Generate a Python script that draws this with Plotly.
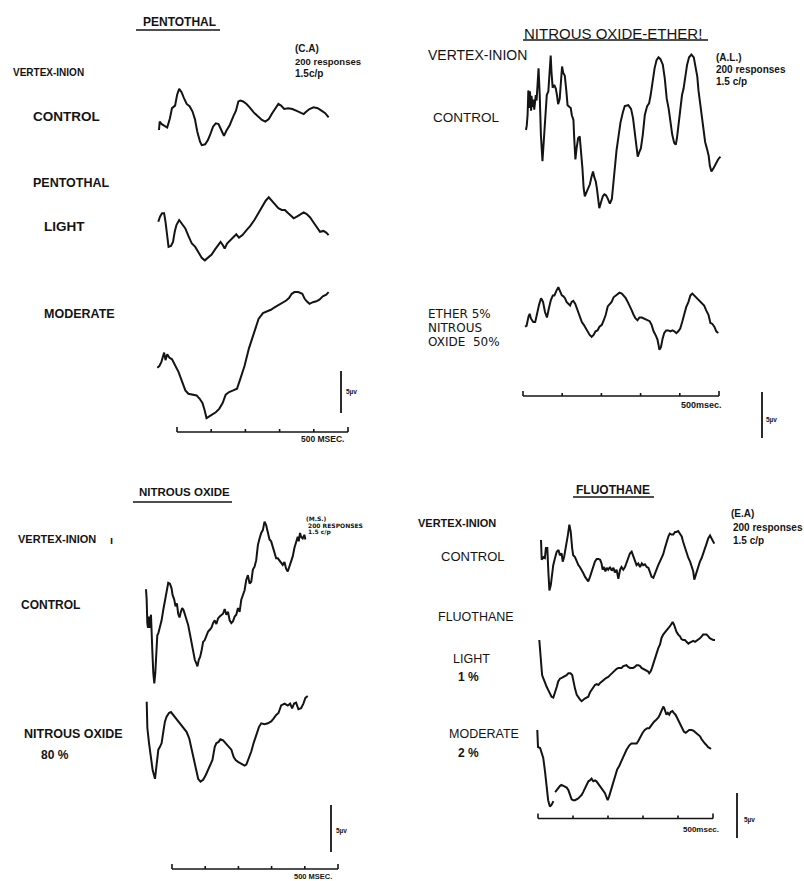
import plotly.graph_objects as go

W, H = 804, 881

# ---------------------------------------------------------------------------
# Averaged evoked responses (200 responses, 1.5 c/p), vertex-inion derivation.
# Time in ms from the start of each sweep, amplitude in µV re the first sample.
# ---------------------------------------------------------------------------

# Pentothal (C.A.)
PENT_CONTROL_T = [0, 2, 8, 15, 24, 32, 38, 47, 53, 59, 66, 73, 81, 90, 98, 105, 112, 120, 125, 135,
                  143, 151, 158, 166, 174, 182, 190, 197, 207, 217, 225, 232, 238, 246, 256, 265,
                  277, 290, 301, 311, 321, 331, 341, 349, 357, 366, 378, 390, 401, 413, 423, 431,
                  440, 452, 464, 475, 486, 496]
PENT_CONTROL_UV = [0, 1.0, 0.7, 0.5, 0.3, 1.4, 2.6, 2.9, 4.2, 4.9, 4.5, 3.8, 3.1, 2.8, 2.2, 1.3,
                   -0.2, -1.4, -1.8, -1.7, -1.2, -0.4, 0.4, 0.8, 0.7, 0.0, -0.7, -0.1, 0.6, 1.6,
                   2.3, 3.4, 3.5, 3.4, 3.1, 2.7, 2.1, 1.6, 1.2, 1.0, 1.3, 2.0, 2.7, 3.1, 2.9, 2.5,
                   2.6, 2.5, 2.3, 2.1, 1.9, 2.2, 2.5, 2.7, 2.6, 2.3, 2.0, 1.5]

PENT_LIGHT_T = [0, 5, 11, 17, 21, 26, 30, 37, 43, 48, 53, 61, 69, 79, 88, 98, 108, 118, 127, 136,
                146, 156, 166, 176, 182, 189, 194, 201, 211, 221, 228, 236, 246, 258, 269, 281,
                293, 304, 314, 323, 331, 341, 351, 361, 370, 380, 390, 396, 405, 415, 425, 434,
                444, 454, 464, 473, 483, 491, 498]
PENT_LIGHT_UV = [0, 0.6, 1.0, 1.0, 0.0, -2.0, -3.0, -2.9, -2.4, -1.2, -0.4, 0.2, -0.2, -0.8, -1.7,
                 -2.6, -3.0, -3.7, -4.3, -4.6, -4.3, -3.9, -3.3, -2.8, -2.4, -2.8, -3.2, -2.6,
                 -2.2, -1.9, -1.5, -1.9, -1.6, -1.0, -0.5, 0.2, 1.0, 1.9, 2.5, 2.9, 2.5, 2.0, 1.6,
                 1.4, 1.4, 1.0, 0.6, 0.4, 0.6, 0.9, 1.1, 0.9, 0.5, -0.1, -0.7, -1.2, -1.1, -1.3,
                 -1.6]

PENT_MODERATE_T = [0, 6, 12, 17, 20, 24, 29, 35, 43, 52, 62, 72, 82, 91, 103, 115, 124, 132, 138,
                   144, 152, 161, 171, 181, 191, 200, 210, 222, 233, 243, 255, 268, 282, 296, 309,
                   321, 332, 344, 356, 367, 377, 385, 393, 401, 412, 424, 431, 437, 445, 455, 465,
                   474, 484, 494, 501]
PENT_MODERATE_UV = [0, 0.2, 0.7, 1.4, 1.8, 0.9, 1.6, 1.2, 1.0, 0.3, -0.5, -1.6, -2.7, -3.1, -3.2,
                    -3.3, -3.7, -4.2, -5.0, -6.0, -5.8, -5.6, -5.3, -4.9, -4.2, -3.2, -2.9, -2.7,
                    -2.5, -1.3, 0.2, 2.3, 4.2, 5.8, 6.5, 6.7, 6.9, 7.2, 7.5, 7.7, 8.0, 8.3, 8.8,
                    9.0, 9.0, 8.8, 8.2, 7.9, 7.6, 7.8, 7.9, 8.1, 8.5, 8.7, 9.0]

# Nitrous oxide - ether (A.L.)
NE_CONTROL_T = [0, 2, 4, 6, 9, 10, 13, 14, 17, 20, 21, 25, 27, 30, 32, 35, 38, 42, 45, 48, 53, 57,
                60, 63, 65, 68, 72, 76, 79, 82, 86, 89, 92, 95, 99, 103, 106, 111, 114, 117, 121,
                123, 126, 129, 133, 137, 140, 144, 147, 150, 155, 159, 163, 167, 171, 174, 178,
                181, 184, 187, 191, 196, 200, 204, 208, 214, 219, 223, 227, 231, 235, 241, 247,
                252, 261, 268, 273, 278, 282, 285, 289, 293, 298, 303, 309, 314, 318, 323, 328,
                333, 338, 343, 349, 354, 359, 364, 369, 373, 378, 382, 385, 389, 394, 398, 402,
                406, 411, 416, 422, 428, 432, 437, 440, 445, 450, 453, 457, 462, 466, 469, 473,
                479, 485, 490, 496]
NE_CONTROL_UV = [0, 0.5, 1.6, 4.3, 2.4, 4.2, 2.1, 3.7, 2.5, 3.3, 2.2, 3.8, 3.2, 5.3, 6.7, 3.8,
                 -0.5, -3.4, -1.3, 1.3, 3.8, 4.2, 6.0, 8.1, 6.3, 4.6, 4.9, 4.5, 3.8, 2.8, 3.4, 5.3,
                 6.9, 6.2, 5.9, 4.2, 2.7, 2.5, 2.4, 1.6, 1.1, -0.9, -3.2, -2.0, -0.9, -0.7, -2.0,
                 -4.2, -6.3, -7.2, -6.7, -6.3, -5.9, -5.1, -4.5, -5.1, -5.6, -6.4, -7.2, -8.5,
                 -7.9, -7.2, -7.0, -7.1, -7.4, -8.0, -7.5, -5.8, -3.4, -2.2, -1.0, 0.8, 1.9, 2.6,
                 2.7, 2.3, 1.3, -0.5, -2.2, -2.9, -2.4, -2.0, -0.5, 1.6, 2.6, 2.9, 3.8, 5.3, 6.7,
                 7.6, 7.9, 7.7, 7.1, 5.6, 3.4, 2.3, 0.5, -0.5, -1.4, -1.6, -0.9, 0.6, 2.1, 3.8,
                 4.5, 5.7, 7.1, 7.9, 8.2, 7.9, 7.1, 5.8, 4.3, 2.6, 0.7, -0.5, -1.3, -2.1, -2.8,
                 -3.9, -4.5, -4.1, -3.6, -3.2, -2.9]

NE_ETHER_T = [0, 4, 9, 12, 15, 21, 26, 30, 36, 41, 46, 51, 56, 61, 66, 71, 75, 80, 85, 89, 94,
              98, 102, 106, 111, 115, 119, 123, 128, 132, 136, 140, 145, 150, 155, 160, 165, 170,
              175, 180, 185, 190, 196, 201, 206, 211, 216, 221, 226, 231, 236, 241, 247, 252,
              257, 262, 267, 272, 277, 282, 287, 292, 298, 303, 308, 313, 318, 323, 328, 333,
              338, 343, 347, 351, 355, 360, 366, 371, 376, 381, 386, 391, 396, 401, 406, 411,
              417, 422, 427, 432, 437, 442, 447, 452, 457, 462, 468, 473, 478, 483, 488, 493]
NE_ETHER_UV = [0, 0.1, 1.1, 1.4, 0.9, 0.5, 0.5, 1.3, 2.4, 3.1, 2.7, 1.6, 1.0, 2.0, 2.9, 3.4, 3.4,
               3.9, 4.3, 3.9, 3.4, 3.3, 3.1, 2.7, 2.5, 2.3, 2.7, 2.8, 2.5, 2.0, 1.4, 1.1, 0.5,
               0.2, -0.2, -0.5, -0.9, -1.1, -0.9, -0.5, -0.4, 0.0, 0.2, 0.7, 1.3, 2.2, 2.4, 2.7,
               3.2, 3.4, 3.6, 3.7, 3.6, 3.4, 3.1, 2.7, 2.3, 1.8, 1.3, 0.9, 0.7, 1.0, 1.0, 0.9,
               0.8, 0.7, 0.6, 0.2, -0.5, -0.9, -1.4, -2.5, -2.2, -1.3, -0.7, -0.4, -0.4, -0.5,
               -0.4, -0.5, -0.7, -0.5, -0.2, 0.5, 1.3, 2.1, 2.7, 3.4, 3.6, 3.4, 3.1, 2.9, 2.7,
               2.5, 2.3, 1.8, 1.3, 0.4, 0.3, 0.0, -0.5, -0.7]

# Nitrous oxide (M.S.)
N2O_CONTROL_T = [0, 2, 4, 6, 9, 12, 15, 17, 19, 22, 25, 28, 31, 34, 37, 42, 47, 52, 57, 62, 67,
                 72, 77, 80, 85, 89, 93, 97, 101, 105, 109, 113, 117, 122, 127, 132, 137, 142, 147,
                 152, 155, 159, 163, 167, 172, 177, 182, 187, 192, 197, 202, 207, 212, 217, 222,
                 227, 232, 237, 242, 247, 252, 257, 262, 267, 272, 277, 282, 287, 292, 297, 302,
                 307, 312, 317, 322, 327, 332, 337, 342, 347, 352, 357, 362, 367, 372, 377, 382,
                 387, 392, 397, 402, 407, 412, 417, 422, 427, 432, 437, 442, 447, 452, 457, 460,
                 464, 467, 472, 477, 480]
N2O_CONTROL_UV = [0, -1.1, -3.6, -4.1, -2.9, -4.1, -2.7, -4.0, -6.5, -8.9, -10.0, -8.9, -6.8, -4.9,
                  -4.7, -4.0, -3.3, -2.2, -1.1, 0.1, 0.7, 0.6, 0.1, -0.6, -1.1, -1.8, -1.5, -2.6,
                  -3.0, -2.4, -2.0, -2.2, -2.6, -3.1, -3.8, -4.7, -5.7, -6.8, -7.5, -7.9, -8.2,
                  -7.5, -7.2, -6.6, -5.6, -5.4, -4.9, -4.5, -4.3, -4.1, -3.6, -3.3, -3.7, -3.1,
                  -2.9, -2.7, -2.6, -2.1, -2.7, -2.4, -3.3, -3.6, -3.4, -2.9, -2.7, -2.0, -2.4,
                  -1.1, -0.6, -0.1, 1.0, 1.5, 0.6, 0.8, 2.1, 2.4, 3.1, 4.7, 5.4, 6.0, 6.3, 7.2,
                  6.8, 6.0, 5.3, 5.1, 4.5, 3.8, 3.3, 3.3, 3.1, 2.9, 2.6, 2.9, 2.2, 1.9, 2.4, 3.1,
                  3.5, 4.4, 4.9, 5.6, 5.1, 6.0, 5.6, 5.4, 5.8, 5.3]

N2O_80_T = [0, 2, 7, 12, 18, 25, 30, 35, 40, 45, 50, 55, 60, 67, 73, 80, 90, 100, 110, 120, 128,
            135, 142, 148, 155, 162, 170, 178, 185, 192, 198, 205, 210, 216, 222, 230, 238, 246,
            255, 262, 268, 275, 285, 295, 300, 308, 315, 322, 330, 338, 345, 355, 365, 375, 382,
            390, 397, 405, 415, 425, 432, 438, 444, 450, 457, 465, 472, 478, 485]
N2O_80_UV = [0, -2.8, -4.4, -5.9, -7.3, -8.2, -6.9, -5.1, -4.8, -4.4, -3.2, -2.1, -1.6, -1.2, -1.1,
             -1.4, -1.8, -2.3, -2.7, -3.2, -3.9, -5.0, -6.2, -7.4, -8.2, -8.5, -8.3, -7.8, -7.3,
             -6.7, -6.2, -4.8, -4.4, -4.3, -4.0, -4.1, -4.4, -4.7, -5.1, -5.9, -6.2, -6.4, -6.6,
             -6.8, -6.7, -6.0, -5.3, -4.4, -3.5, -2.7, -2.3, -2.4, -2.3, -2.1, -1.8, -1.4, -1.2,
             -0.4, -0.2, -0.4, -0.2, -0.7, -0.2, -0.1, -0.8, -0.7, -0.2, 0.4, 0.6]

# Fluothane (E.A.)
FLUO_CONTROL_T = [0, 2, 7, 11, 14, 18, 21, 24, 28, 31, 35, 40, 45, 50, 54, 59, 62, 66, 69, 73, 77,
                  81, 85, 89, 92, 97, 102, 107, 111, 116, 121, 126, 130, 135, 140, 145, 149, 154,
                  159, 164, 169, 173, 176, 180, 184, 188, 192, 197, 202, 207, 211, 216, 221, 226,
                  230, 235, 240, 245, 249, 254, 259, 264, 268, 273, 278, 283, 288, 292, 297, 302,
                  307, 311, 316, 321, 326, 330, 335, 340, 345, 349, 354, 359, 364, 368, 373, 378,
                  383, 387, 392, 397, 402, 406, 411, 416, 421, 426, 430, 435, 438, 442, 445, 449,
                  454, 459, 464, 468, 473, 478, 483, 487, 492, 495]
FLUO_CONTROL_UV = [0, -2.2, -1.9, -2.0, -0.9, -0.9, -3.5, -5.6, -5.0, -3.9, -2.8, -2.0, -1.3, -1.1,
                   -1.7, -1.5, -2.4, -1.9, -1.3, -0.6, 0.6, 1.7, 0.9, -0.9, -1.7, -1.9, -2.4, -2.8,
                   -3.0, -3.3, -3.7, -4.1, -4.4, -4.6, -4.1, -3.5, -3.0, -2.4, -2.1, -2.1, -2.2,
                   -2.6, -3.3, -3.0, -3.5, -3.1, -3.3, -3.0, -3.4, -3.1, -3.6, -3.3, -4.3, -3.3,
                   -3.0, -3.3, -3.0, -2.4, -1.9, -1.5, -1.3, -1.9, -2.4, -2.8, -2.6, -3.0, -2.6,
                   -2.8, -2.7, -3.0, -3.1, -3.5, -4.1, -4.2, -3.8, -3.3, -2.8, -2.4, -2.0, -1.6,
                   -0.9, -0.2, 0.4, 0.7, 0.6, 0.6, 0.9, 0.9, 1.0, 0.7, 0.4, -0.2, -0.9, -1.5, -2.0,
                   -2.4, -3.0, -3.5, -4.4, -3.9, -3.3, -3.0, -2.4, -2.0, -1.5, -0.9, -0.4, 0.2,
                   0.5, 0.2, -0.2, -0.4]

FLUO_LIGHT_T = [0, 4, 8, 11, 16, 21, 26, 30, 35, 40, 45, 50, 54, 59, 64, 69, 73, 78, 83, 89, 94,
                97, 102, 107, 111, 116, 121, 126, 130, 135, 140, 145, 149, 154, 159, 164, 169, 173,
                178, 183, 188, 192, 197, 202, 207, 211, 216, 221, 226, 230, 235, 240, 245, 249,
                254, 259, 264, 268, 273, 278, 283, 288, 292, 297, 302, 307, 311, 314, 318, 322,
                326, 330, 335, 340, 345, 349, 354, 359, 364, 368, 373, 378, 381, 385, 388, 392,
                397, 402, 406, 411, 416, 421, 426, 430, 435, 440, 445, 449, 454, 459, 464, 468,
                473, 478, 483, 487, 492, 497, 502]
FLUO_LIGHT_UV = [0, -1.7, -3.9, -4.2, -4.8, -5.2, -5.6, -5.9, -6.3, -6.4, -5.9, -5.2, -4.6, -4.3,
                 -4.2, -4.1, -4.0, -3.9, -3.7, -3.7, -3.9, -4.6, -5.4, -6.1, -6.4, -6.6, -6.8,
                 -6.6, -6.5, -6.4, -6.3, -5.8, -5.6, -5.3, -5.0, -4.9, -5.0, -4.8, -4.6, -4.4,
                 -4.3, -4.2, -4.1, -3.9, -3.7, -3.5, -3.3, -3.2, -3.1, -3.1, -3.1, -2.9, -2.8,
                 -2.8, -3.0, -3.1, -3.1, -3.1, -3.0, -2.8, -2.8, -2.9, -3.1, -3.2, -3.3, -3.4,
                 -3.5, -3.7, -3.5, -3.1, -2.6, -2.0, -1.5, -0.9, -0.5, 0.2, 0.6, 0.9, 1.1, 1.3,
                 1.5, 1.9, 2.0, 1.7, 1.3, 0.9, 0.6, 0.4, 0.1, 0.0, 0.0, -0.2, -0.4, -0.3, -0.2,
                 -0.1, -0.2, -0.1, 0.0, 0.2, 0.4, 0.6, 0.6, 0.6, 0.4, 0.2, 0.1, 0.0, 0.0]

# the pen lifted briefly around 48 ms; None leaves that break in the line
FLUO_MODERATE_T = [0, 2, 8, 12, 17, 22, 27, 31, 36, 41, 46, 48, 51, 55, 60, 65, 69, 74, 79, 84, 89,
                   93, 98, 103, 108, 112, 117, 122, 127, 131, 136, 141, 146, 150, 155, 160, 165,
                   169, 174, 179, 184, 188, 193, 198, 201, 205, 209, 214, 219, 224, 228, 234, 241,
                   248, 255, 263, 269, 276, 284, 289, 295, 301, 307, 314, 320, 327, 333, 339, 346,
                   350, 355, 360, 363, 367, 369, 373, 377, 381, 386, 390, 395, 400, 405, 409, 414,
                   419, 424, 428, 434, 441, 447, 453, 460, 465, 469, 474, 479, 484, 488, 493, 496]
FLUO_MODERATE_UV = [0, -1.9, -2.0, -2.6, -3.1, -4.6, -6.5, -7.8, -8.5, -8.3, -7.9, None, -6.9,
                    -6.7, -6.4, -6.2, -6.1, -6.2, -6.3, -6.4, -6.7, -7.2, -7.7, -7.8, -7.8, -7.7,
                    -7.6, -7.4, -7.2, -6.9, -6.5, -6.1, -5.7, -5.6, -5.4, -5.7, -5.6, -5.7, -6.0,
                    -6.3, -6.5, -6.7, -7.0, -7.5, -7.8, -7.4, -6.9, -6.1, -5.6, -5.0, -4.4, -4.0,
                    -3.3, -2.8, -2.2, -1.7, -1.5, -1.5, -1.5, -1.2, -0.7, -0.3, 0.0, 0.2, 0.2, 0.6,
                    0.9, 1.1, 1.4, 1.7, 2.1, 2.6, 2.4, 1.9, 1.7, 1.9, 1.7, 2.0, 2.1, 1.9, 1.7, 1.3,
                    0.9, 0.6, 0.2, -0.2, -0.3, -0.2, 0.0, 0.0, -0.1, -0.3, -0.5, -0.7, -1.0, -1.3,
                    -1.5, -1.7, -1.9, -2.0, -2.1]

# Time base and calibration
TIME_TICKS_MS = [0, 100, 200, 300, 400, 500]
CAL_UV = 5

# ---------------------------------------------------------------------------
# Page layout (pixels on the 804 x 881 page)
# ---------------------------------------------------------------------------
# px per ms, px per µV for each of the four records
SCALE = {
    "pent": (0.342, 8.4),
    "ne": (0.392, 9.2),
    "n2o": (0.332, 9.4),
    "fluo": (0.350, 9.0),
}

# (time, amplitude, record, sweep start x, sweep start y)
WAVES = [
    (PENT_CONTROL_T, PENT_CONTROL_UV, "pent", 159.0, 130.0),
    (PENT_LIGHT_T, PENT_LIGHT_UV, "pent", 158.3, 221.7),
    (PENT_MODERATE_T, PENT_MODERATE_UV, "pent", 157.3, 367.7),
    (NE_CONTROL_T, NE_CONTROL_UV, "ne", 526.0, 130.0),
    (NE_ETHER_T, NE_ETHER_UV, "ne", 525.0, 326.7),
    (N2O_CONTROL_T, N2O_CONTROL_UV, "n2o", 146.0, 589.3),
    (N2O_80_T, N2O_80_UV, "n2o", 146.7, 701.7),
    (FLUO_CONTROL_T, FLUO_CONTROL_UV, "fluo", 541.0, 540.0),
    (FLUO_LIGHT_T, FLUO_LIGHT_UV, "fluo", 539.3, 640.0),
    (FLUO_MODERATE_T, FLUO_MODERATE_UV, "fluo", 537.3, 730.0),
]

# time bar: record, left end x, baseline y
TIME_BARS = [("pent", 177, 432), ("ne", 523, 396), ("n2o", 172, 869), ("fluo", 538, 818.5)]
# calibration bar: record, x, lower end y
CAL_BARS = [("pent", 341, 413), ("ne", 762, 438), ("n2o", 331, 852), ("fluo", 737, 838)]

END_TICK_PX = 5
MID_TICK_PX = 3
INK = "#141414"
FONT = "Liberation Sans, Arial, sans-serif"
FONT_WIDE = "DejaVu Sans, Liberation Sans, sans-serif"

fig = go.Figure()
_axis_count = [0]


def new_axes(x0_px, y0_px, px_per_x, px_per_y):
    """Invisible full-page axis pair whose data origin sits at (x0_px, y0_px)."""
    _axis_count[0] += 1
    k = _axis_count[0]
    sfx = "" if k == 1 else str(k)
    xa = dict(domain=[0, 1], range=[-x0_px / px_per_x, (W - x0_px) / px_per_x],
              visible=False, fixedrange=True, anchor="y" + sfx)
    ya = dict(domain=[0, 1], range=[(y0_px - H) / px_per_y, y0_px / px_per_y],
              visible=False, fixedrange=True, anchor="x" + sfx)
    if k > 1:
        xa["overlaying"] = "x"
        ya["overlaying"] = "y"
    fig.update_layout({"xaxis" + sfx: xa, "yaxis" + sfx: ya})
    return "x" + sfx, "y" + sfx


def line_trace(x, y, xa, ya, width):
    return go.Scatter(x=x, y=y, xaxis=xa, yaxis=ya, mode="lines",
                      line=dict(color=INK, width=width), connectgaps=False,
                      showlegend=False, hoverinfo="skip")


# waveforms
for t, uv, rec, x0, y0 in WAVES:
    pxms, pxuv = SCALE[rec]
    xa, ya = new_axes(x0, y0, pxms, pxuv)
    fig.add_trace(line_trace(t, uv, xa, ya, 2.0))

# 500 ms time bars with 100 ms ticks (y in px above the bar)
for rec, x0, y0 in TIME_BARS:
    pxms, _ = SCALE[rec]
    xa, ya = new_axes(x0, y0, pxms, 1.0)
    bx = [TIME_TICKS_MS[0], TIME_TICKS_MS[-1]]
    by = [0, 0]
    for i, tk in enumerate(TIME_TICKS_MS):
        h = END_TICK_PX if i in (0, len(TIME_TICKS_MS) - 1) else MID_TICK_PX
        bx += [None, tk, tk]
        by += [None, 0, h]
    fig.add_trace(line_trace(bx, by, xa, ya, 1.6))

# 5 µV calibration bars
for rec, x0, y0 in CAL_BARS:
    _, pxuv = SCALE[rec]
    xa, ya = new_axes(x0, y0, 1.0, pxuv)
    fig.add_trace(line_trace([0, 0], [0, CAL_UV], xa, ya, 1.8))

# text: (text, left x, centre y, size, bold, family)
LABELS = [
    # pentothal
    ("PENTOTHAL", 142, 22, 12, True, FONT),
    ("(C.A)", 294, 48, 10, True, FONT),
    ("200 responses", 294, 61, 9.5, True, FONT),
    ("1.5c/p", 294, 73, 10, True, FONT),
    ("VERTEX-INION", 12, 72, 10, True, FONT),
    ("CONTROL", 32, 116, 13.5, True, FONT),
    ("PENTOTHAL", 32, 183, 12.5, True, FONT),
    ("LIGHT", 43, 226, 13.5, True, FONT),
    ("MODERATE", 43, 314, 12.5, True, FONT),
    ("5µv", 345, 392, 6.5, True, FONT),
    ("500 MSEC.", 300, 439, 8.5, True, FONT),
    # nitrous oxide - ether
    ("NITROUS OXIDE-ETHER!", 523, 33, 15, False, FONT),
    ("VERTEX-INION", 427, 55, 14, False, FONT),
    ("CONTROL", 432, 118, 13.5, False, FONT),
    ("(A.L.)", 715, 57, 10, True, FONT),
    ("200 responses", 715, 69, 10, True, FONT),
    ("1.5 c/p", 715, 81, 10, True, FONT),
    ("ETHER 5%", 427, 314, 12, False, FONT_WIDE),
    ("NITROUS", 427, 328, 12, False, FONT_WIDE),
    ("OXIDE  50%", 427, 342, 12, False, FONT_WIDE),
    ("500msec.", 680, 405, 9, True, FONT),
    ("5µv", 765, 420, 6.5, True, FONT),
    # nitrous oxide
    ("NITROUS OXIDE", 138, 492, 11.5, True, FONT),
    ("VERTEX-INION", 17, 539, 11, True, FONT),
    ("ı", 109, 540, 11, True, FONT),
    ("CONTROL", 20, 605, 12, True, FONT),
    ("(M.S.)", 305, 518, 6, True, FONT_WIDE),
    ("200 RESPONSES", 307, 525, 6, True, FONT_WIDE),
    ("1.5 c/p", 307, 532, 6, True, FONT_WIDE),
    ("NITROUS OXIDE", 23, 734, 12.5, True, FONT),
    ("80 %", 40, 755, 12, True, FONT),
    ("5µv", 335, 831, 6.5, True, FONT),
    ("500 MSEC.", 293, 876.5, 7.5, True, FONT),
    # fluothane
    ("FLUOTHANE", 575, 490, 12, True, FONT),
    ("VERTEX-INION", 417, 523, 11, True, FONT),
    ("CONTROL", 440, 556, 13, False, FONT),
    ("(E.A)", 730, 513, 10, True, FONT),
    ("200 responses", 732, 527, 10, True, FONT),
    ("1.5 c/p", 732, 540, 10, True, FONT),
    ("FLUOTHANE", 437, 617, 12.5, False, FONT),
    ("LIGHT", 452, 659, 12.5, False, FONT),
    ("1 %", 457, 677, 12, True, FONT),
    ("MODERATE", 448, 734, 12.5, False, FONT),
    ("2 %", 457, 753, 12, True, FONT),
    ("500msec.", 682, 829, 8, True, FONT),
    ("5µv", 743, 820, 6.5, True, FONT),
]

for text, x, y, size, bold, family in LABELS:
    fig.add_annotation(
        text=f"<b>{text}</b>" if bold else text,
        xref="paper", yref="paper", x=x / W, y=1 - y / H,
        xanchor="left", yanchor="middle", showarrow=False,
        font=dict(family=family, size=size, color=INK), borderpad=0,
    )

# underlined record titles: (x from, x to, y)
UNDERLINES = [(136, 220, 30), (523, 708, 40), (133, 232, 502), (573, 654, 497)]
for xa_, xb_, yy in UNDERLINES:
    fig.add_shape(type="line", xref="paper", yref="paper",
                  x0=xa_ / W, x1=xb_ / W, y0=1 - yy / H, y1=1 - yy / H,
                  line=dict(color=INK, width=1.6))

fig.update_layout(
    width=W, height=H,
    margin=dict(l=0, r=0, t=0, b=0, pad=0),
    paper_bgcolor="white", plot_bgcolor="white",
    showlegend=False,
)

fig.write_html("out.html")
